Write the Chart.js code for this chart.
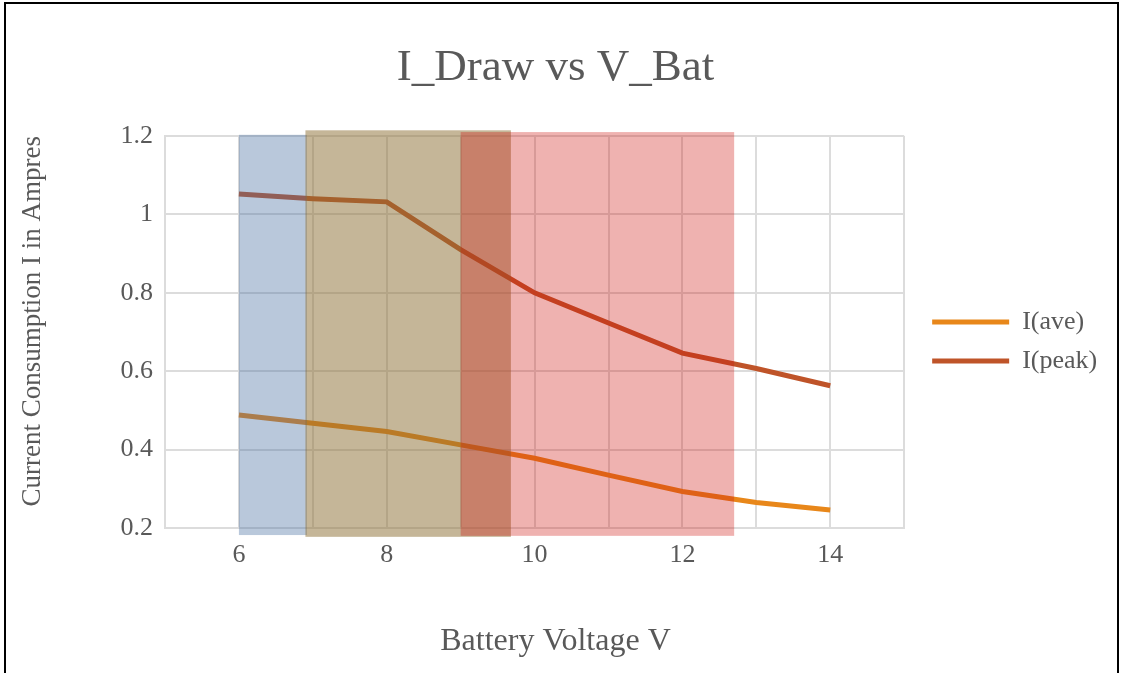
<!DOCTYPE html>
<html>
<head>
<meta charset="utf-8">
<title>I_Draw vs V_Bat</title>
<script src="https://cdn.jsdelivr.net/npm/chart.js@4"></script>
<style>
  html, body { margin: 0; padding: 0; background: #fff; }
  canvas { position: absolute; left: 0; top: 0; }
  #frame { position: absolute; left: 4px; top: 2px; width: 1111px; height: 700px; border: 2px solid #000; pointer-events: none; }
</style>
</head>
<body>
<canvas id="chart" width="1121" height="673"></canvas>
<div id="frame"></div>
<script>
// battery voltage (V) and current draw (A)
const volts = [6, 7, 8, 9, 10, 11, 12, 13, 14];
const iAve = [0.488, 0.467, 0.446, 0.412, 0.378, 0.335, 0.293, 0.265, 0.246];
const iPeak = [1.052, 1.040, 1.032, 0.910, 0.800, 0.723, 0.646, 0.607, 0.563];
const seriesNames = ['I(ave)', 'I(peak)'];

// shaded voltage bands
const bandFrom = [6.0, 6.9, 9.0];
const bandTo = [6.92, 9.68, 12.7];
const bandTop = [1.203, 1.2145, 1.21];
const bandBottom = [0.182, 0.1775, 0.18];
const bandColors = ['rgba(70,110,160,0.38)', 'rgba(140,110,50,0.5)', 'rgba(207,20,15,0.33)'];

const serif = "'Liberation Serif', 'DejaVu Serif', serif";
const textColor = '#595959';
const gridColor = '#dcdcdc';

const toPoints = vals => volts.map((v, i) => ({ x: v, y: vals[i] }));

const bands = {
  id: 'bands',
  afterDatasetsDraw(chart) {
    const { ctx, scales: { x, y } } = chart;
    ctx.save();
    bandFrom.forEach((from, i) => {
      const left = x.getPixelForValue(from);
      const right = x.getPixelForValue(bandTo[i]);
      const top = y.getPixelForValue(bandTop[i]);
      const bottom = y.getPixelForValue(bandBottom[i]);
      ctx.fillStyle = bandColors[i];
      ctx.fillRect(left, top, right - left, bottom - top);
    });
    ctx.restore();
  }
};

const ctx = document.getElementById('chart').getContext('2d');

const chart = new Chart(ctx, {
  type: 'line',
  data: {
    datasets: [{
      label: seriesNames[0],
      data: toPoints(iAve),
      borderColor: '#e8871a',
      backgroundColor: '#e8871a',
      borderWidth: 5,
      pointRadius: 0,
      tension: 0
    }, {
      label: seriesNames[1],
      data: toPoints(iPeak),
      borderColor: '#bf5429',
      backgroundColor: '#bf5429',
      borderWidth: 5,
      pointRadius: 0,
      tension: 0
    }]
  },
  options: {
    responsive: false,
    animation: false,
    layout: { padding: { left: 10, right: 20, top: 10, bottom: 0 } },
    plugins: {
      title: {
        display: true,
        text: 'I_Draw vs V_Bat',
        color: textColor,
        font: { family: serif, size: 45, weight: 'normal' },
        padding: { top: 31, bottom: 41 }
      },
      subtitle: {
        display: true,
        position: 'bottom',
        text: 'Battery Voltage V',
        color: textColor,
        font: { family: serif, size: 32, weight: 'normal' },
        padding: { top: 20, bottom: 12 }
      },
      legend: {
        position: 'right',
        labels: {
          color: textColor,
          font: { family: serif, size: 26 },
          boxWidth: 77,
          boxHeight: 5,
          padding: 13,
          generateLabels(chart) {
            return Chart.defaults.plugins.legend.labels.generateLabels(chart)
              .map(item => ({ ...item, lineWidth: 0 }));
          }
        }
      },
      tooltip: { enabled: false }
    },
    scales: {
      x: {
        type: 'linear',
        min: 5,
        max: 15,
        afterFit(scale) { scale.height = 74.6; },
        grid: { color: gridColor, lineWidth: 2, drawTicks: false },
        border: { color: gridColor, width: 2 },
        ticks: {
          stepSize: 1,
          autoSkip: false,
          maxRotation: 0,
          padding: 12,
          color: textColor,
          font: { family: serif, size: 26 },
          callback: v => (v % 2 === 0 ? v : '')
        }
      },
      y: {
        min: 0.2,
        max: 1.2,
        afterFit(scale) { scale.width = 155; },
        grid: { color: gridColor, lineWidth: 2, drawTicks: false },
        border: { color: gridColor, width: 2 },
        ticks: {
          stepSize: 0.2,
          padding: 12,
          color: textColor,
          font: { family: serif, size: 26 },
          callback: v => String(Number(v.toFixed(1)))
        },
        title: {
          display: true,
          text: 'Current Consumption I in Ampres',
          align: 'end',
          color: textColor,
          font: { family: serif, size: 27 },
          padding: { top: 7, bottom: 0 }
        }
      },
      // empty spacer between plot and legend
      gap: {
        type: 'linear',
        position: 'right',
        afterFit(scale) { scale.width = 15; },
        grid: { display: false },
        border: { display: false },
        ticks: { display: false }
      }
    }
  },
  plugins: [bands]
});
</script>
</body>
</html>
